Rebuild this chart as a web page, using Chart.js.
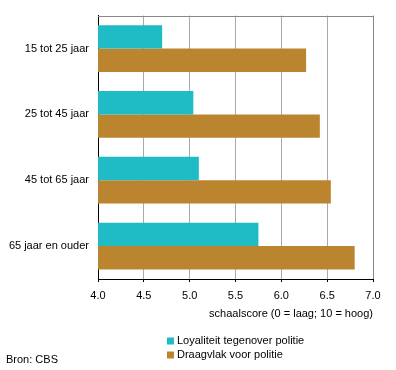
<!DOCTYPE html>
<html>
<head>
<meta charset="utf-8">
<script src="https://cdn.jsdelivr.net/npm/chart.js@4"></script>
<style>
  html, body { margin: 0; padding: 0; background: #fff; }
  #wrap { width: 396px; height: 370px; position: relative; }
</style>
</head>
<body>
<div id="wrap"><canvas id="chart" width="396" height="370"></canvas></div>
<script>
// data
var categories = ['15 tot 25 jaar', '25 tot 45 jaar', '45 tot 65 jaar', '65 jaar en ouder'];
var loyaliteit = [4.70, 5.04, 5.10, 5.75];
var draagvlak = [6.27, 6.42, 6.54, 6.80];
var seriesNames = ['Loyaliteit tegenover politie', 'Draagvlak voor politie'];
var xTicks = [4.0, 4.5, 5.0, 5.5, 6.0, 6.5, 7.0];
var xTitle = 'schaalscore (0 = laag; 10 = hoog)';
var source = 'Bron: CBS';

var colors = ['#1fbcc6', '#bb8530'];
var fontFamily = '"Liberation Sans", Arial, sans-serif';

// top frame line, legend and source line
var extras = {
  id: 'extras',
  afterDraw: function(chart) {
    var ctx = chart.ctx;
    var area = chart.chartArea;
    ctx.save();
    ctx.strokeStyle = '#888';
    ctx.lineWidth = 1;
    ctx.beginPath();
    ctx.moveTo(area.left, Math.round(area.top) + 0.5);
    ctx.lineTo(area.right + 0.5, Math.round(area.top) + 0.5);
    ctx.stroke();

    ctx.font = '11px ' + fontFamily;
    ctx.textBaseline = 'middle';
    ctx.textAlign = 'left';
    seriesNames.forEach(function(name, i) {
      var y = 341 + i * 14;
      ctx.fillStyle = colors[i];
      ctx.fillRect(167, y - 3.5, 7, 7);
      ctx.fillStyle = '#000';
      ctx.fillText(name, 177, y);
    });
    ctx.fillText(source, 6, 360);
    ctx.restore();
  }
};

new Chart(document.getElementById('chart'), {
  type: 'bar',
  data: {
    labels: categories,
    datasets: [{
      label: seriesNames[0],
      data: loyaliteit,
      backgroundColor: colors[0],
      categoryPercentage: 0.71,
      barPercentage: 1
    }, {
      label: seriesNames[1],
      data: draagvlak,
      backgroundColor: colors[1],
      categoryPercentage: 0.71,
      barPercentage: 1
    }]
  },
  options: {
    indexAxis: 'y',
    responsive: false,
    animation: false,
    layout: { padding: { left: 0, top: 15, right: 23, bottom: 0 } },
    plugins: {
      legend: { display: false },
      tooltip: { enabled: false }
    },
    scales: {
      x: {
        min: 4,
        max: 7,
        afterBuildTicks: function(scale) {
          scale.ticks = xTicks.map(function(v) { return { value: v }; });
        },
        afterFit: function(scale) { scale.height = 91; },
        grid: {
          color: function(c) { return c.tick && c.tick.value === 7 ? '#888' : '#aaa'; },
          tickColor: '#000',
          tickLength: 3,
          lineWidth: 1
        },
        border: { color: '#000', width: 1 },
        ticks: {
          color: '#000',
          padding: 7,
          maxRotation: 0,
          font: { family: fontFamily, size: 11 },
          callback: function(v) { return Number(v).toFixed(1); }
        },
        title: {
          display: true,
          text: xTitle,
          align: 'end',
          color: '#000',
          font: { family: fontFamily, size: 11 },
          padding: { top: 0, bottom: 49.5 }
        }
      },
      y: {
        afterFit: function(scale) { scale.width = 98; },
        grid: { display: false, drawTicks: false },
        border: { color: '#000', width: 1 },
        ticks: {
          color: '#000',
          padding: 9,
          font: { family: fontFamily, size: 11 }
        }
      }
    }
  },
  plugins: [extras]
});
</script>
</body>
</html>
